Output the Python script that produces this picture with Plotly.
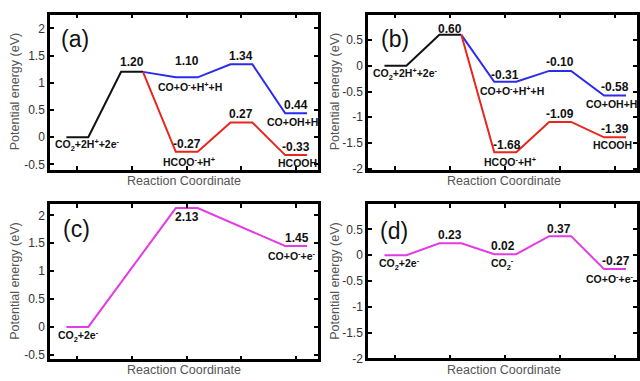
import plotly.graph_objects as go

# ---------------- data ----------------
steps5 = [1, 2, 3, 4, 5]
steps3 = [1, 3, 5]

a_black = [0.00, 1.20]
a_blue = [1.20, 1.10, 1.34, 0.44]
a_red = [1.20, -0.27, 0.27, -0.33]

b_black = [0.00, 0.60]
b_blue = [0.60, -0.31, -0.10, -0.58]
b_red = [0.60, -1.68, -1.09, -1.39]

c_pink = [0.00, 2.13, 1.45]
d_pink = [0.00, 0.23, 0.02, 0.37, -0.27]

a_yticks = [-0.5, 0, 0.5, 1, 1.5, 2]
b_yticks = [-2, -1.5, -1, -0.5, 0, 0.5, 1]

sp_CO2_H = "CO<sub>2</sub>+2H<sup>+</sup>+2e<sup>-</sup>"
sp_COOHH = "CO+O<sup>-</sup>+H<sup>+</sup>+H"
sp_COOH_H = "CO+OH+H"
sp_HCOO = "HCOO<sup>-</sup>+H<sup>+</sup>"
sp_HCOOH = "HCOOH"
sp_CO2_e = "CO<sub>2</sub>+2e<sup>-</sup>"
sp_CO2m = "CO<sub>2</sub><sup>-</sup>"
sp_COOe = "CO+O<sup>-</sup>+e<sup>-</sup>"

# ---------------- style ----------------
FONT = "Liberation Sans, Arial, sans-serif"
HW = 0.2  # half width of an energy level (in step units)
C_BLACK = "#111111"
C_BLUE = "#2b2bf0"
C_RED = "#e8261e"
C_PINK = "#e43be4"


def path(pos, vals, skip_first=False):
    xs, ys = [], []
    for i, (p, v) in enumerate(zip(pos, vals)):
        if i == 0 and skip_first:
            xs.append(p + HW); ys.append(v)
        else:
            xs += [p - HW, p + HW]; ys += [v, v]
    return xs, ys


fig = go.Figure()


def add_line(pos, vals, color, ax, skip_first=False):
    xs, ys = path(pos, vals, skip_first)
    fig.add_trace(go.Scatter(x=xs, y=ys, mode="lines",
                             line=dict(color=color, width=2),
                             xaxis="x" + ax, yaxis="y" + ax,
                             showlegend=False, hoverinfo="skip"))


# panel a
add_line(steps5[:2], a_black, C_BLACK, "")
add_line(steps5[1:], a_blue, C_BLUE, "", True)
add_line(steps5[1:], a_red, C_RED, "", True)
# panel b
add_line(steps5[:2], b_black, C_BLACK, "2")
add_line(steps5[1:], b_blue, C_BLUE, "2", True)
add_line(steps5[1:], b_red, C_RED, "2", True)
# panel c
add_line(steps3, c_pink, C_PINK, "3")
# panel d
add_line(steps5, d_pink, C_PINK, "4")

W, H = 640, 381
def px(x):
    return x / W
def py(y):
    return 1 - y / H

panels = {
    "": dict(x=(50, 318), y=(15, 173), yr=[-0.6, 2.25], yt=a_yticks),
    "2": dict(x=(368, 637), y=(15, 173), yr=[-2.02, 0.99], yt=b_yticks),
    "3": dict(x=(50, 318), y=(208, 366), yr=[-0.58, 2.2], yt=a_yticks),
    "4": dict(x=(368, 637), y=(208, 365), yr=[-2.0, 0.99], yt=b_yticks),
}

layout = dict(width=W, height=H, margin=dict(l=0, r=0, t=0, b=0),
              paper_bgcolor="white", plot_bgcolor="white",
              font=dict(family=FONT, color="#333333", size=12))
for ax, p in panels.items():
    common = dict(showline=True, linewidth=2.5, linecolor="black", mirror="ticks",
                  ticks="inside", ticklen=4, tickwidth=1.5, tickcolor="black",
                  showgrid=False, zeroline=False, fixedrange=True)
    layout["xaxis" + ax] = dict(common, domain=[px(p["x"][0]), px(p["x"][1])],
                                range=[0.5, 5.4], tickvals=steps5,
                                showticklabels=False, anchor="y" + ax)
    layout["yaxis" + ax] = dict(common, domain=[py(p["y"][1]), py(p["y"][0])],
                                range=p["yr"], tickvals=p["yt"],
                                ticktext=[f"{v:g}" for v in p["yt"]],
                                tickfont=dict(size=12, color="#333333"),
                                anchor="x" + ax)
fig.update_layout(**layout)

ann = []


def val(ax, x, y, shift, text=None):
    ann.append(dict(x=x, y=y, xref="x" + ax, yref="y" + ax, yshift=shift,
                    xanchor="center", yanchor="middle",
                    text="<b>%s</b>" % (text if text else f"{y:.2f}"),
                    showarrow=False, font=dict(size=12, color="#111111")))


def spc(ax, x, y, shift, text):
    ann.append(dict(x=x, y=y, xref="x" + ax, yref="y" + ax, yshift=shift,
                    xanchor="center", yanchor="middle",
                    text="<b>%s</b>" % text, showarrow=False,
                    font=dict(size=10.5, color="#111111")))


# panel a
val("", 2, a_black[1], 10)
val("", 3, a_blue[1], 16)
val("", 4, a_blue[2], 8)
val("", 5, a_blue[3], 8)
val("", 3, a_red[1], 8)
val("", 4, a_red[2], 8)
val("", 5, a_red[3], 8)
spc("", 1.19, a_black[0], -8, sp_CO2_H)
spc("", 3.06, a_blue[1], -9, sp_COOHH)
spc("", 4.93, a_blue[3], -9, sp_COOH_H)
spc("", 3.05, a_red[1], -10, sp_HCOO)
spc("", 5.02, a_red[3], -8, sp_HCOOH)
# panel b
val("2", 2, b_black[1], 6)
val("2", 3, b_blue[1], 7)
val("2", 4, b_blue[2], 9)
val("2", 5, b_blue[3], 9)
val("2", 3.03, b_red[1], 7)
val("2", 4, b_red[2], 8)
val("2", 5, b_red[3], 8)
spc("2", 1.18, b_black[0], -8, sp_CO2_H)
spc("2", 3.12, b_blue[1], -9, sp_COOHH)
spc("2", 4.93, b_blue[3], -8, sp_COOH_H)
spc("2", 3.08, b_red[1], -9, sp_HCOO)
spc("2", 4.95, b_red[3], -8, sp_HCOOH)
# panel c
val("3", 3, c_pink[1], -9)
val("3", 5.02, c_pink[2], 8)
spc("3", 1.02, c_pink[0], -9, sp_CO2_e)
spc("3", 4.93, c_pink[2], -9, sp_COOe)
# panel d
val("4", 2, d_pink[1], 8)
val("4", 2.95, d_pink[2], 8)
val("4", 3.97, d_pink[3], 7)
val("4", 5.02, d_pink[4], 8)
spc("4", 1.08, d_pink[0], -9, sp_CO2_e)
spc("4", 2.95, d_pink[2], -10, sp_CO2m)
spc("4", 4.9, d_pink[4], -9, sp_COOe)

# panel letters
for t, x, y in [("(a)", 75, 40), ("(b)", 395, 40), ("(c)", 76, 233), ("(d)", 394, 235)]:
    ann.append(dict(x=px(x), y=py(y), xref="paper", yref="paper", text=t,
                    xanchor="center", yanchor="middle",
                    showarrow=False, font=dict(size=23, color="#111111")))

# axis titles
for x, y in [(15, 94), (335, 94), (15, 287), (335, 287)]:
    ann.append(dict(x=px(x), y=py(y), xref="paper", yref="paper",
                    xanchor="center", yanchor="middle",
                    text="Potential energy (eV)", textangle=-90, showarrow=False,
                    font=dict(size=12.5, color="#555555")))
for x, y in [(184, 184), (504, 184), (184, 377), (504, 377)]:
    ann.append(dict(x=px(x), y=py(y), xref="paper", yref="paper",
                    xanchor="center", yanchor="middle",
                    text="Reaction Coordinate", showarrow=False,
                    font=dict(size=12.5, color="#555555")))

fig.update_layout(annotations=ann)
fig.write_html("out.html", config={"displayModeBar": False},
               post_script="document.body.style.margin='0px';")
